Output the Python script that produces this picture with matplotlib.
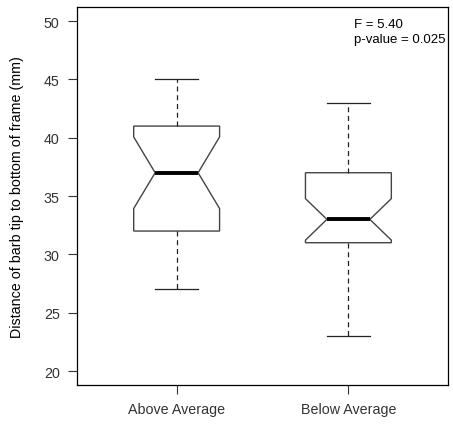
import matplotlib.pyplot as plt

plt.rcParams['font.family'] = ['Liberation Sans', 'DejaVu Sans']

# Datos
grupos = ["Above Average", "Below Average"]
medianas = [37, 33]
q1 = [32, 31]
q3 = [41, 37]
bigote_inf = [27, 23]
bigote_sup = [45, 43]
muesca_inf = [33.93, 31.22]
muesca_sup = [40.07, 34.78]
texto_f = "F = 5.40"
texto_p = "p-value = 0.025"

stats = []
for i, g in enumerate(grupos):
    stats.append({
        "label": g,
        "med": medianas[i],
        "q1": q1[i],
        "q3": q3[i],
        "whislo": bigote_inf[i],
        "whishi": bigote_sup[i],
        "cilo": muesca_inf[i],
        "cihi": muesca_sup[i],
        "fliers": [],
    })

fig = plt.figure(figsize=(4.53, 4.27), dpi=100)
ax = fig.add_axes([0.170, 0.096, 0.819, 0.885])

gris = '#444444'
ax.bxp(stats, positions=[1, 2], widths=0.5, shownotches=True, patch_artist=True,
       showfliers=False,
       boxprops=dict(facecolor='white', edgecolor=gris, linewidth=1.0),
       medianprops=dict(color='black', linewidth=2.8, solid_capstyle='butt'),
       whiskerprops=dict(color='#222222', linewidth=0.9, linestyle=(0, (4, 3))),
       capprops=dict(color='#222222', linewidth=0.9))

ax.set_xlim(0.42, 2.58)
ax.set_ylim(18.8, 51.2)
ax.set_yticks([20, 25, 30, 35, 40, 45, 50])
ax.set_xticks([1, 2])
ax.set_xticklabels(grupos)
ax.tick_params(axis='both', direction='out', length=6.5, width=0.8,
               labelsize=10.3, colors='#333333', labelcolor='#333333', pad=6)
for s in ax.spines.values():
    s.set_linewidth(0.9)
    s.set_color('black')

ax.set_ylabel("Distance of barb tip to bottom of frame (mm)", fontsize=10.3,
              color='black', labelpad=14)

ax.text(2.03, 49.75, texto_f, fontsize=9.5, va='center', ha='left')
ax.text(2.03, 48.45, texto_p, fontsize=9.5, va='center', ha='left')

fig.savefig("out.png", dpi=100)
